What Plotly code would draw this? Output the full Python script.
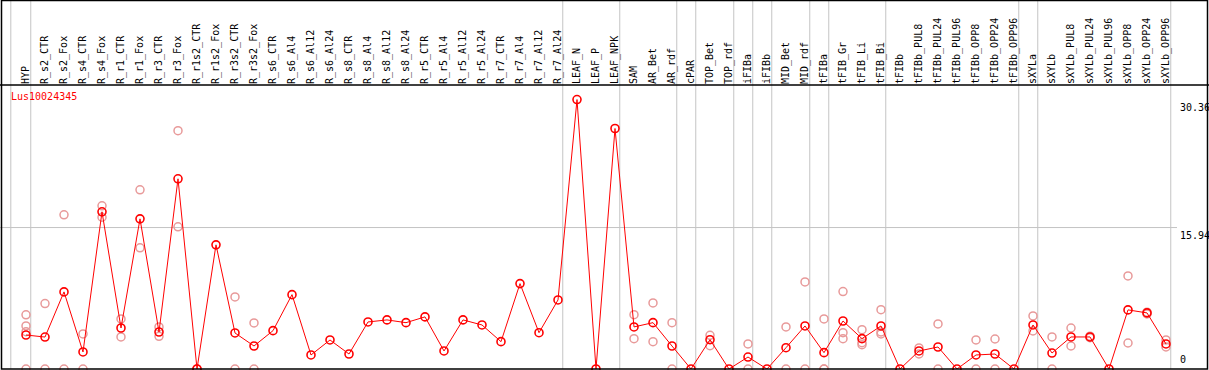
import plotly.graph_objects as go

categories = [
    "HYP", "R_s2_CTR", "R_s2_Fox", "R_s4_CTR", "R_s4_Fox", "R_r1_CTR", "R_r1_Fox",
    "R_r3_CTR", "R_r3_Fox", "R_r1s2_CTR", "R_r1s2_Fox", "R_r3s2_CTR", "R_r3s2_Fox",
    "R_s6_CTR", "R_s6_Al4", "R_s6_Al12", "R_s6_Al24", "R_s8_CTR", "R_s8_Al4",
    "R_s8_Al12", "R_s8_Al24", "R_r5_CTR", "R_r5_Al4", "R_r5_Al12", "R_r5_Al24",
    "R_r7_CTR", "R_r7_Al4", "R_r7_Al12", "R_r7_Al24", "LEAF_N", "LEAF_P", "LEAF_NPK",
    "SAM", "AR_Bet", "AR_rdf", "cPAR", "TOP_Bet", "TOP_rdf", "iFIBa", "iFIBb",
    "MID_Bet", "MID_rdf", "tFIBa", "tFIB_Gr", "tFIB_Li", "tFIB_Bi", "tFIBb",
    "tFIBb_PUL8", "tFIBb_PUL24", "tFIBb_PUL96", "tFIBb_OPP8", "tFIBb_OPP24",
    "tFIBb_OPP96", "sXYLa", "sXYLb", "sXYLb_PUL8", "sXYLb_PUL24", "sXYLb_PUL96",
    "sXYLb_OPP8", "sXYLb_OPP24", "sXYLb_OPP96",
]

mean_values = [
    3.83, 3.60, 8.69, 1.92, 17.71, 4.62, 16.92, 4.17, 21.43, 0.0, 13.99, 4.06, 2.59,
    4.32, 8.38, 1.58, 3.27, 1.69, 5.30, 5.53, 5.22, 5.87, 2.03, 5.53, 4.96,
    3.08, 9.62, 4.09, 7.78, 30.36, 0.0, 27.10,
    4.74, 5.22, 2.59, 0.0, 3.30, 0.0, 1.35, 0.0,
    2.40, 4.85, 1.84, 5.41, 3.42, 4.85, 0.0,
    2.03, 2.48, 0.0, 1.58, 1.69, 0.0,
    4.96, 1.80, 3.61, 3.61, 0.0, 6.66, 6.32, 2.82,
]

replicates = [
    [6.10, 4.85, 4.20, 0.0], [7.37, 0.0], [17.37, 0.0], [3.95, 0.0], [18.39, 17.10],
    [5.64, 3.61], [20.19, 13.65], [4.74, 3.68], [26.85, 16.02], [0.0, 0.0], [],
    [8.12, 0.0], [5.19, 0.0],
    [], [], [], [], [], [], [], [], [], [], [], [], [], [], [], [],
    [], [], [],
    [6.12, 3.42], [7.45, 3.08], [5.22, 0.0], [], [3.79, 2.63], [], [2.82, 0.0], [],
    [4.74, 0.0], [9.81, 0.0], [5.64, 0.0, 0.0], [8.72, 4.09, 3.42], [4.43, 2.97, 2.74],
    [6.69, 4.17, 3.95], [],
    [2.37, 1.70], [5.08, 0.0], [], [3.27, 0.0], [3.38, 0.0], [],
    [5.98, 4.29], [3.61, 0.0], [4.62, 2.59], [3.70, 3.52], [], [10.49, 2.93],
    [6.40, 6.20], [3.27, 2.48],
]

gene_name = "Lus10024345"
axis_marks = [30.36, 15.94, 0]
group_ends = ["HYP", "R_r7_Al24", "LEAF_NPK", "AR_rdf", "cPAR", "TOP_rdf", "iFIBa",
              "iFIBb", "MID_rdf", "tFIBa", "tFIB_Bi", "tFIBb_OPP96", "sXYLa", "sXYLb_OPP96"]

W, H = 1209, 370
MT, MB = 85, 1
plot_h = H - MT - MB
step = 19.0
first_px = 26.0
x0 = -first_px / step
x1 = (W - first_px) / step
ymax = 32.0
ytop = 1 + MT / plot_h

def xpaper(v):
    return (v - x0) / (x1 - x0)

xs = list(range(len(categories)))
rep_x, rep_y = [], []
for i, reps in enumerate(replicates):
    for r in reps:
        rep_x.append(i)
        rep_y.append(r)

fig = go.Figure()
fig.add_trace(go.Scatter(
    x=rep_x, y=rep_y, mode="markers",
    marker=dict(symbol="circle-open", size=8, color="#e89a9a", line=dict(width=1.5)),
    hoverinfo="skip", showlegend=False, cliponaxis=False,
))
fig.add_trace(go.Scatter(
    x=xs, y=mean_values, mode="lines+markers",
    line=dict(color="#ff0000", width=1),
    marker=dict(symbol="circle-open", size=8, color="#ff0000", line=dict(width=1.6)),
    showlegend=False, cliponaxis=False,
))

shapes = []
grid_col = "#c4c4c4"
sep_positions = [-0.8] + [categories.index(g) + 0.25 for g in group_ends]
for p in sep_positions:
    shapes.append(dict(type="line", xref="paper", yref="paper",
                       x0=xpaper(p), x1=xpaper(p), y0=0, y1=ytop,
                       line=dict(color=grid_col, width=1), layer="below"))
gx1 = 1177 / W
shapes.append(dict(type="line", xref="paper", yref="paper", x0=0, x1=gx1,
                   y0=axis_marks[1] / ymax, y1=axis_marks[1] / ymax,
                   line=dict(color=grid_col, width=1), layer="below"))
shapes.append(dict(type="rect", xref="paper", yref="paper",
                   x0=1.5 / W, x1=(W - 1.5) / W, y0=0, y1=ytop - 0.5 / plot_h,
                   line=dict(color="black", width=1.5)))
shapes.append(dict(type="line", xref="paper", yref="paper", x0=0, x1=1, y0=1, y1=1,
                   line=dict(color="black", width=1.5)))

mono = "DejaVu Sans Mono"
annotations = [
    dict(text=gene_name, xref="paper", yref="paper", x=9 / W, y=1 - 4 / plot_h,
         xanchor="left", yanchor="top", showarrow=False,
         font=dict(family=mono, size=10, color="#ff0000")),
]
for v in axis_marks:
    annotations.append(dict(
        text=f"{v:g}" if v == 0 else f"{v:.2f}", xref="paper", yref="y",
        x=1178 / W, y=v, xanchor="left",
        yanchor="bottom" if v == 0 else "top", showarrow=False,
        font=dict(family=mono, size=10, color="black"),
        yshift=2 if v == 0 else 0,
    ))

fig.update_layout(
    width=W, height=H,
    margin=dict(l=0, r=0, t=MT, b=MB, pad=0),
    paper_bgcolor="white", plot_bgcolor="white",
    xaxis=dict(range=[x0, x1], side="top", tickmode="array", tickvals=xs,
               ticktext=categories, tickangle=-90, showgrid=False, zeroline=False,
               showline=False, ticks="", tickfont=dict(family=mono, size=10, color="black"),
               ticklabelstandoff=0, ticklabelshift=0, fixedrange=True),
    yaxis=dict(range=[0, ymax], showgrid=False, zeroline=False, showticklabels=False,
               showline=False, fixedrange=True),
    shapes=shapes, annotations=annotations,
)

fig.write_html("out.html", config={"displayModeBar": False},
               post_script="document.body.style.margin='0';document.body.style.overflow='hidden';")
